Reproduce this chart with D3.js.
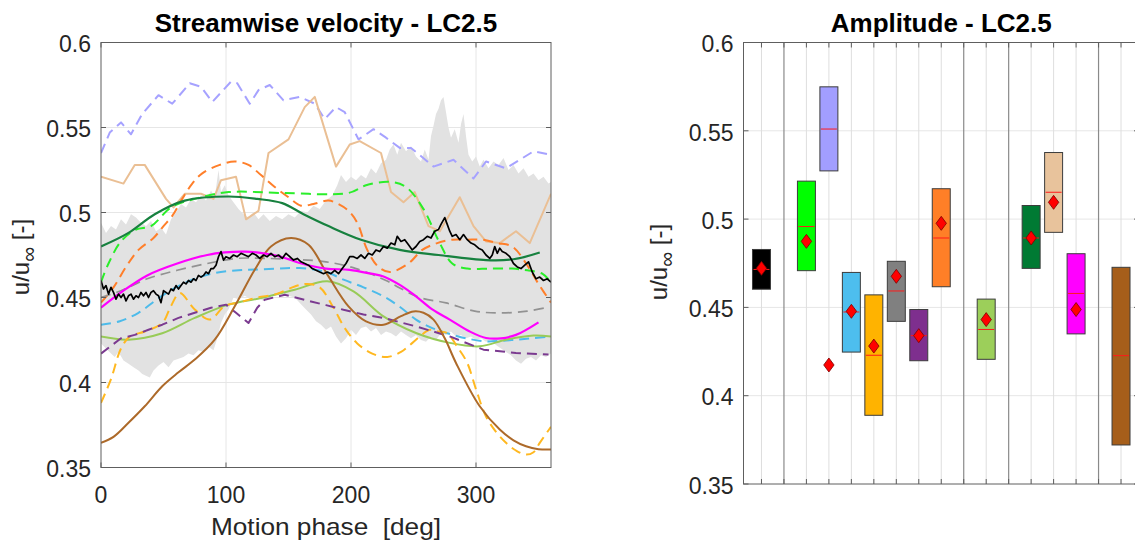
<!DOCTYPE html>
<html>
<head>
<meta charset="utf-8">
<script src="https://cdn.jsdelivr.net/npm/d3@7"></script>
<style>
  body { margin: 0; background: #fff; }
  svg text { font-family: "Liberation Sans", Arial, Helvetica, sans-serif; fill: #262626; }
</style>
</head>
<body>
<div id="chart"></div>
<script>
// ---- values ----
const phaseTicks = [0, 100, 200, 300];
const velTicks = [0.35, 0.4, 0.45, 0.5, 0.55, 0.6];
const velTickLabels = ["0.35", "0.4", "0.45", "0.5", "0.55", "0.6"];

// grey envelope (upper / lower edge), [phase, u/uinf]
const bandUpper = [[0,0.494],[4,0.488],[8,0.492],[12,0.490],[16,0.496],[20,0.493],[24,0.499],[28,0.497],[32,0.494],[36,0.492],[40,0.495],[44,0.489],[48,0.491],[52,0.487],[56,0.496],[60,0.500],[64,0.505],[68,0.503],[72,0.508],[76,0.506],[80,0.510],[84,0.507],[88,0.513],[91,0.509],[94,0.525],[96,0.512],[99,0.516],[102,0.510],[106,0.506],[110,0.502],[114,0.499],[118,0.497],[122,0.500],[126,0.496],[130,0.499],[135,0.495],[140,0.498],[145,0.496],[150,0.499],[155,0.497],[160,0.501],[165,0.500],[170,0.504],[175,0.502],[180,0.507],[185,0.510],[189,0.516],[192,0.522],[196,0.518],[200,0.521],[204,0.519],[208,0.522],[212,0.520],[216,0.526],[220,0.523],[224,0.529],[228,0.531],[231,0.537],[234,0.540],[237,0.534],[240,0.541],[244,0.536],[248,0.539],[252,0.533],[256,0.530],[259,0.537],[262,0.531],[264,0.545],[266,0.551],[268,0.558],[270,0.561],[272,0.566],[274,0.568],[276,0.559],[278,0.550],[280,0.544],[283,0.549],[286,0.541],[288,0.552],[290,0.558],[292,0.545],[294,0.534],[297,0.530],[300,0.533],[303,0.527],[306,0.531],[310,0.526],[314,0.530],[318,0.528],[322,0.532],[326,0.525],[330,0.528],[334,0.523],[338,0.526],[342,0.521],[346,0.523],[350,0.519],[354,0.521],[358,0.517],[360,0.518]];
const bandLower = [[0,0.423],[4,0.420],[8,0.417],[11,0.415],[14,0.418],[18,0.413],[22,0.411],[26,0.409],[30,0.407],[33,0.405],[36,0.404],[39,0.403],[42,0.407],[46,0.410],[50,0.412],[54,0.409],[58,0.413],[62,0.414],[66,0.415],[70,0.417],[74,0.416],[78,0.419],[82,0.418],[86,0.421],[90,0.419],[93,0.426],[96,0.435],[99,0.440],[102,0.443],[106,0.450],[110,0.449],[115,0.451],[120,0.449],[125,0.450],[130,0.448],[135,0.451],[140,0.452],[145,0.453],[150,0.451],[155,0.450],[160,0.446],[164,0.443],[168,0.440],[172,0.436],[176,0.434],[180,0.431],[184,0.433],[188,0.427],[192,0.423],[196,0.426],[200,0.431],[204,0.428],[208,0.432],[212,0.433],[216,0.430],[220,0.432],[224,0.428],[228,0.430],[232,0.429],[236,0.427],[240,0.430],[244,0.428],[248,0.426],[252,0.428],[256,0.425],[260,0.424],[264,0.427],[268,0.425],[272,0.429],[276,0.428],[280,0.430],[284,0.427],[288,0.428],[292,0.426],[296,0.427],[300,0.425],[304,0.426],[308,0.424],[312,0.425],[316,0.422],[320,0.420],[324,0.418],[328,0.416],[332,0.413],[336,0.411],[340,0.414],[344,0.415],[348,0.413],[352,0.416],[356,0.415],[360,0.417]];

const lavenderDash = [[0,0.535],[7,0.547],[16,0.553],[24,0.546],[33,0.558],[46,0.569],[57,0.564],[71,0.576],[80,0.574],[89,0.565],[104,0.577],[109,0.576],[119,0.564],[126,0.572],[135,0.575],[146,0.566],[159,0.568],[171,0.564],[179,0.555],[188,0.562],[195,0.559],[206,0.543],[218,0.549],[228,0.544],[239,0.538],[248,0.538],[266,0.527],[282,0.531],[298,0.520],[308,0.530],[324,0.526],[346,0.536],[360,0.534]];
const tanSolid = [[0,0.521],[18,0.517],[27,0.528],[35,0.528],[52,0.508],[58,0.503],[67,0.511],[80,0.511],[90,0.508],[96,0.519],[108,0.521],[116,0.496],[126,0.501],[134,0.535],[150,0.543],[163,0.562],[171,0.568],[188,0.527],[199,0.540],[207,0.542],[224,0.535],[232,0.512],[242,0.506],[251,0.512],[262,0.492],[271,0.489],[287,0.509],[298,0.492],[308,0.483],[319,0.482],[332,0.489],[343,0.482],[360,0.511]];
const orangeDash = [[0,0.447],[10,0.456],[20,0.468],[30,0.478],[42,0.485],[50,0.492],[57,0.498],[65,0.508],[73,0.517],[81,0.523],[95,0.528],[107,0.530],[118,0.528],[128,0.522],[139,0.515],[150,0.509],[160,0.504],[170,0.505],[182,0.507],[190,0.505],[198,0.501],[205,0.494],[213,0.478],[222,0.468],[231,0.465],[246,0.470],[257,0.478],[269,0.482],[281,0.484],[293,0.484],[305,0.484],[317,0.482],[329,0.480],[341,0.469],[350,0.458],[360,0.447]];
const greenDash = [[0,0.459],[6,0.470],[16,0.483],[28,0.490],[40,0.492],[56,0.503],[75,0.508],[102,0.512],[145,0.5115],[198,0.5115],[212,0.516],[231,0.518],[244,0.515],[258,0.502],[271,0.482],[281,0.470],[293,0.467],[311,0.467],[329,0.467],[341,0.466],[353,0.464],[360,0.459]];
const darkGreenSolid = [[0,0.480],[22,0.488],[43,0.499],[67,0.507],[102,0.5094],[125,0.508],[145,0.5055],[162,0.499],[182,0.492],[208,0.484],[239,0.478],[270,0.475],[308,0.472],[330,0.4725],[351,0.4765]];
const magentaSolid = [[0,0.444],[16,0.453],[37,0.463],[61,0.470],[85,0.475],[99,0.4765],[115,0.477],[130,0.476],[144,0.474],[159,0.4703],[180,0.467],[199,0.4663],[216,0.464],[226,0.4624],[240,0.457],[252,0.4507],[265,0.443],[279,0.437],[295,0.430],[308,0.4262],[320,0.426],[332,0.428],[350,0.4354]];
const greyDash = [[0,0.450],[16,0.454],[37,0.461],[61,0.466],[85,0.470],[109,0.473],[132,0.473],[159,0.4722],[180,0.471],[204,0.467],[228,0.460],[239,0.4556],[255,0.450],[276,0.4468],[299,0.442],[319,0.4409],[341,0.442],[358,0.4444]];
const blueDash = [[0,0.434],[15,0.436],[30,0.441],[45,0.449],[59,0.4556],[75,0.461],[91,0.4644],[110,0.466],[128,0.4665],[159,0.4673],[180,0.465],[194,0.4605],[210,0.456],[226,0.4507],[240,0.444],[252,0.437],[265,0.432],[277,0.429],[292,0.426],[308,0.4242],[320,0.4245],[332,0.4252],[345,0.426],[360,0.427]];
const yellowGreenSolid = [[0,0.427],[22,0.4252],[49,0.429],[75,0.438],[102,0.4458],[128,0.4497],[155,0.4546],[181,0.4595],[202,0.4536],[226,0.4389],[252,0.4291],[279,0.4233],[303,0.4213],[324,0.4252],[346,0.4276],[360,0.4271]];
const yellowDash = [[0,0.388],[8,0.402],[16,0.420],[23,0.427],[35,0.430],[49,0.435],[56,0.445],[63,0.4526],[75,0.443],[87,0.437],[99,0.445],[110,0.447],[125,0.450],[140,0.452],[155,0.4565],[165,0.458],[175,0.456],[186,0.444],[195,0.432],[205,0.423],[217,0.417],[229,0.415],[240,0.418],[247,0.422],[255,0.427],[263,0.431],[270,0.430],[277,0.429],[285,0.421],[293,0.4115],[300,0.396],[308,0.380],[316,0.371],[324,0.3645],[332,0.360],[340,0.3576],[346,0.359],[351,0.3645],[360,0.374]];
const purpleDash = [[0,0.417],[16,0.426],[27,0.428],[38,0.431],[49,0.434],[62,0.438],[75,0.441],[88,0.444],[100,0.4458],[108,0.441],[118,0.435],[125,0.444],[131,0.4487],[147,0.4516],[168,0.4477],[180,0.4455],[194,0.4428],[210,0.440],[226,0.438],[252,0.433],[279,0.4271],[306,0.4193],[332,0.4174],[358,0.4164]];
const brownSolid = [[0,0.3645],[10,0.368],[22,0.3763],[35,0.386],[49,0.3978],[62,0.406],[75,0.4135],[91,0.4252],[107,0.4448],[123,0.4663],[136,0.480],[152,0.485],[166,0.481],[182,0.4624],[198,0.4448],[212,0.436],[226,0.434],[240,0.439],[250,0.4418],[258,0.441],[266,0.437],[275,0.426],[284,0.4115],[303,0.386],[319,0.3723],[330,0.366],[340,0.3625],[350,0.3608],[360,0.3606]];
const blackSolid = [[0,0.460],[2,0.455],[4,0.457],[6,0.452],[8,0.456],[10,0.453],[12,0.449],[14,0.452],[16,0.450],[18,0.452],[20,0.448],[22,0.451],[24,0.452],[26,0.449],[28,0.451],[30,0.450],[32,0.453],[34,0.451],[36,0.453],[38,0.450],[40,0.453],[42,0.454],[44,0.452],[46,0.451],[48,0.447],[50,0.454],[52,0.453],[54,0.452],[56,0.455],[58,0.454],[60,0.457],[62,0.455],[64,0.457],[66,0.459],[68,0.458],[70,0.460],[72,0.459],[74,0.461],[76,0.460],[78,0.463],[80,0.462],[82,0.463],[84,0.465],[86,0.464],[88,0.467],[90,0.467],[92,0.469],[94,0.474],[96,0.477],[98,0.472],[100,0.474],[103,0.473],[106,0.475],[109,0.474],[112,0.476],[115,0.475],[118,0.474],[121,0.476],[124,0.475],[127,0.473],[130,0.475],[133,0.474],[136,0.476],[139,0.474],[142,0.475],[145,0.473],[148,0.476],[151,0.474],[154,0.472],[157,0.473],[160,0.471],[163,0.470],[166,0.469],[169,0.467],[172,0.466],[175,0.465],[178,0.464],[181,0.465],[184,0.464],[187,0.466],[190,0.464],[193,0.467],[196,0.470],[199,0.474],[202,0.474],[205,0.473],[208,0.475],[211,0.473],[214,0.476],[217,0.475],[220,0.478],[223,0.477],[226,0.480],[229,0.479],[232,0.482],[235,0.481],[237,0.486],[240,0.483],[243,0.484],[246,0.481],[249,0.478],[252,0.480],[255,0.483],[258,0.484],[261,0.486],[264,0.485],[267,0.489],[270,0.490],[272,0.493],[275,0.497],[277,0.493],[279,0.489],[281,0.486],[284,0.487],[287,0.484],[290,0.487],[293,0.484],[296,0.482],[299,0.481],[302,0.479],[305,0.478],[308,0.475],[311,0.473],[313,0.475],[315,0.480],[317,0.476],[319,0.479],[321,0.477],[324,0.476],[327,0.474],[330,0.470],[333,0.468],[336,0.467],[339,0.469],[342,0.471],[345,0.465],[348,0.461],[351,0.462],[354,0.460],[357,0.461],[360,0.459]];

// right panel: one box per case, positions along a categorical axis
const boxPos    = [1, 3, 4, 5, 6, 7, 8, 9, 11, 13, 14, 15, 17];
const boxColors = ["#000000","#00ff00","#a29eff","#4dbeee","#ffb300","#808080","#7e2f8e","#ff7f27","#9ccf5a","#007a33","#e8c39c","#ff00ff","#a65e1a"];
const boxLow    = [0.4603, 0.4708, 0.5273, 0.4247, 0.3889, 0.4421, 0.4198, 0.4617, 0.4206, 0.4721, 0.4925, 0.4350, 0.3721];
const boxHigh   = [0.4828, 0.5215, 0.5749, 0.4698, 0.4571, 0.4761, 0.4488, 0.5172, 0.4547, 0.5077, 0.5377, 0.4804, 0.4727];
const boxMedian = [0.4715, 0.4958, 0.5510, 0.4474, 0.4229, 0.4593, 0.4340, 0.4893, 0.4375, 0.4893, 0.5152, 0.4579, 0.4227];
const meanPos   = [1, 3, 4, 5, 6, 7, 8, 9, 11, 13, 14, 15];
const meanVal   = [0.4721, 0.4874, 0.4174, 0.4478, 0.4281, 0.4676, 0.4340, 0.4976, 0.4431, 0.4893, 0.5095, 0.4488];
const catTicks  = d3.range(1, 18);
const groupLines = [2, 10, 12, 16];

// ---- layout ----
const width = 1135, height = 545;
const L = {x0: 101, x1: 551, y0: 42.5, y1: 467.5};
const R = {x0: 743.5, x1: 1139, y0: 42.5, y1: 484};
const axisColor = "#5e5e5e", gridColor = "#e6e6e6", tickLen = 5;

const svg = d3.select("#chart").append("svg")
  .attr("width", width).attr("height", height);

const xL = d3.scaleLinear().domain([0, 360]).range([L.x0, L.x1]);
const yL = d3.scaleLinear().domain([0.35, 0.6]).range([L.y1, L.y0]);
const xR = d3.scaleLinear().domain([0.2, 17.8]).range([R.x0, R.x1]);
const yR = d3.scaleLinear().domain([0.35, 0.6]).range([R.y1, R.y0]);

const defs = svg.append("defs");
defs.append("clipPath").attr("id", "clipL").append("rect")
  .attr("x", L.x0).attr("y", L.y0).attr("width", L.x1 - L.x0).attr("height", L.y1 - L.y0);
defs.append("clipPath").attr("id", "clipR").append("rect")
  .attr("x", R.x0).attr("y", R.y0).attr("width", R.x1 - R.x0).attr("height", R.y1 - R.y0);

// ================= left panel =================
const gL = svg.append("g");

// grid
gL.append("g").selectAll("line").data(phaseTicks.slice(1)).join("line")
  .attr("x1", d => xL(d)).attr("x2", d => xL(d)).attr("y1", L.y0).attr("y2", L.y1)
  .attr("stroke", gridColor);
gL.append("g").selectAll("line").data(velTicks.slice(1, -1)).join("line")
  .attr("x1", L.x0).attr("x2", L.x1).attr("y1", d => yL(d)).attr("y2", d => yL(d))
  .attr("stroke", gridColor);

const plotL = gL.append("g").attr("clip-path", "url(#clipL)");

// envelope: upper edge out, lower edge back
const edge = d3.line().x(d => xL(d[0])).y(d => yL(d[1]));
const bandPath = edge(bandUpper) + "L" + edge(bandLower.slice().reverse()).slice(1) + "Z";
plotL.append("path").attr("d", bandPath).attr("fill", "#e2e2e2").attr("stroke", "none");

const series = [
  {data: lavenderDash,     color: "#a6a2ff", dash: "10,6", w: 2.0, curve: d3.curveLinear},
  {data: tanSolid,         color: "#eabf94", dash: null,   w: 2.0, curve: d3.curveLinear},
  {data: orangeDash,       color: "#ff7f2a", dash: "10,6", w: 2.0, curve: d3.curveCatmullRom},
  {data: greenDash,        color: "#2aee2a", dash: "10,6", w: 2.0, curve: d3.curveCatmullRom},
  {data: greyDash,         color: "#929292", dash: "10,6", w: 1.7, curve: d3.curveCatmullRom},
  {data: blueDash,         color: "#4dbbea", dash: "10,6", w: 2.0, curve: d3.curveCatmullRom},
  {data: yellowGreenSolid, color: "#98cb58", dash: null,   w: 2.0, curve: d3.curveCatmullRom},
  {data: yellowDash,       color: "#ffb820", dash: "10,6", w: 2.0, curve: d3.curveCatmullRom},
  {data: purpleDash,       color: "#7b3a90", dash: "10,6", w: 2.0, curve: d3.curveLinear},
  {data: brownSolid,       color: "#ad6a2a", dash: null,   w: 2.0, curve: d3.curveCatmullRom},
  {data: darkGreenSolid,   color: "#17813f", dash: null,   w: 2.2, curve: d3.curveCatmullRom},
  {data: magentaSolid,     color: "#ff00ff", dash: null,   w: 2.2, curve: d3.curveCatmullRom},
  {data: blackSolid,       color: "#000000", dash: null,   w: 1.7, curve: d3.curveLinear}
];

series.forEach(s => {
  const line = d3.line().x(d => xL(d[0])).y(d => yL(d[1])).curve(s.curve);
  plotL.append("path")
    .attr("d", line(s.data))
    .attr("fill", "none")
    .attr("stroke", s.color)
    .attr("stroke-width", s.w)
    .attr("stroke-dasharray", s.dash)
    .attr("stroke-linejoin", "round");
});

// frame, ticks on all four sides, y tick labels
function frame(g, box, xs, xt, ys, yt) {
  g.append("rect").attr("x", box.x0).attr("y", box.y0)
    .attr("width", box.x1 - box.x0).attr("height", box.y1 - box.y0)
    .attr("fill", "none").attr("stroke", axisColor).attr("stroke-width", 1);
  const t = g.append("g").attr("stroke", axisColor).attr("stroke-width", 1);
  xt.forEach(v => {
    const x = xs(v);
    t.append("line").attr("x1", x).attr("x2", x).attr("y1", box.y1).attr("y2", box.y1 - tickLen);
    t.append("line").attr("x1", x).attr("x2", x).attr("y1", box.y0).attr("y2", box.y0 + tickLen);
  });
  yt.forEach(v => {
    const y = ys(v);
    t.append("line").attr("x1", box.x0).attr("x2", box.x0 + tickLen).attr("y1", y).attr("y2", y);
    t.append("line").attr("x1", box.x1).attr("x2", box.x1 - tickLen).attr("y1", y).attr("y2", y);
  });
  g.append("g").selectAll("text").data(yt).join("text")
    .attr("x", box.x0 - 10).attr("y", d => ys(d) + 1.5)
    .attr("dy", "0.36em").attr("text-anchor", "end")
    .style("font-size", "23px")
    .text((d, i) => velTickLabels[i]);
}

frame(gL, L, xL, phaseTicks, yL, velTicks);

gL.append("g").selectAll("text").data(phaseTicks).join("text")
  .attr("x", d => xL(d)).attr("y", L.y1 + 35)
  .attr("text-anchor", "middle").style("font-size", "23px")
  .text(d => d);

gL.append("text")
  .attr("x", (L.x0 + L.x1) / 2).attr("y", 535)
  .attr("text-anchor", "middle").style("font-size", "24px")
  .attr("textLength", 230).attr("lengthAdjust", "spacingAndGlyphs")
  .text("Motion phase \u00a0[deg]");

gL.append("text")
  .attr("x", (L.x0 + L.x1) / 2).attr("y", 31.5)
  .attr("text-anchor", "middle").style("font-size", "26px").style("font-weight", "bold")
  .style("fill", "#000")
  .text("Streamwise velocity - LC2.5");

function yLabel(g, x, y) {
  const t = g.append("text")
    .attr("transform", `translate(${x},${y}) rotate(-90)`)
    .attr("text-anchor", "middle").style("font-size", "24px");
  t.append("tspan").text("u/u");
  t.append("tspan").attr("dy", 7).style("font-size", "21px").text("\u221e");
  t.append("tspan").attr("dy", -7).text(" [-]");
}
yLabel(gL, 29, 257);

// ================= right panel =================
const gR = svg.append("g");

gR.append("g").selectAll("line").data(velTicks.slice(1, -1)).join("line")
  .attr("x1", R.x0).attr("x2", R.x1).attr("y1", d => yR(d)).attr("y2", d => yR(d))
  .attr("stroke", gridColor);
gR.append("g").selectAll("line").data(catTicks).join("line")
  .attr("x1", d => xR(d)).attr("x2", d => xR(d)).attr("y1", R.y0).attr("y2", R.y1)
  .attr("stroke", d => groupLines.includes(d) ? "#8a8a8a" : "#dedede")
  .attr("stroke-width", d => groupLines.includes(d) ? 1.2 : 1);

const plotR = gR.append("g").attr("clip-path", "url(#clipR)");
const boxW = 0.8;

plotR.append("g").selectAll("rect").data(boxPos).join("rect")
  .attr("x", d => xR(d - boxW / 2))
  .attr("width", xR(boxW) - xR(0))
  .attr("y", (d, i) => yR(boxHigh[i]))
  .attr("height", (d, i) => yR(boxLow[i]) - yR(boxHigh[i]))
  .attr("fill", (d, i) => boxColors[i])
  .attr("stroke", "#3c3c3c").attr("stroke-width", 1);

plotR.append("g").selectAll("line").data(boxPos).join("line")
  .attr("x1", d => xR(d - boxW / 2) + 1).attr("x2", d => xR(d + boxW / 2) - 1)
  .attr("y1", (d, i) => yR(boxMedian[i])).attr("y2", (d, i) => yR(boxMedian[i]))
  .attr("stroke", "#ff1a1a").attr("stroke-width", 1);

plotR.append("g").selectAll("path").data(meanPos).join("path")
  .attr("transform", (d, i) => `translate(${xR(d)},${yR(meanVal[i])})`)
  .attr("d", "M0,-7L5.2,0L0,7L-5.2,0Z")
  .attr("fill", "#ff0000").attr("stroke", "#7a0000").attr("stroke-width", 0.8);

frame(gR, R, xR, catTicks, yR, velTicks);

gR.append("text")
  .attr("x", (R.x0 + R.x1) / 2).attr("y", 31.5)
  .attr("text-anchor", "middle").style("font-size", "26px").style("font-weight", "bold")
  .style("fill", "#000")
  .text("Amplitude - LC2.5");

yLabel(gR, 667, 262);
</script>
</body>
</html>
